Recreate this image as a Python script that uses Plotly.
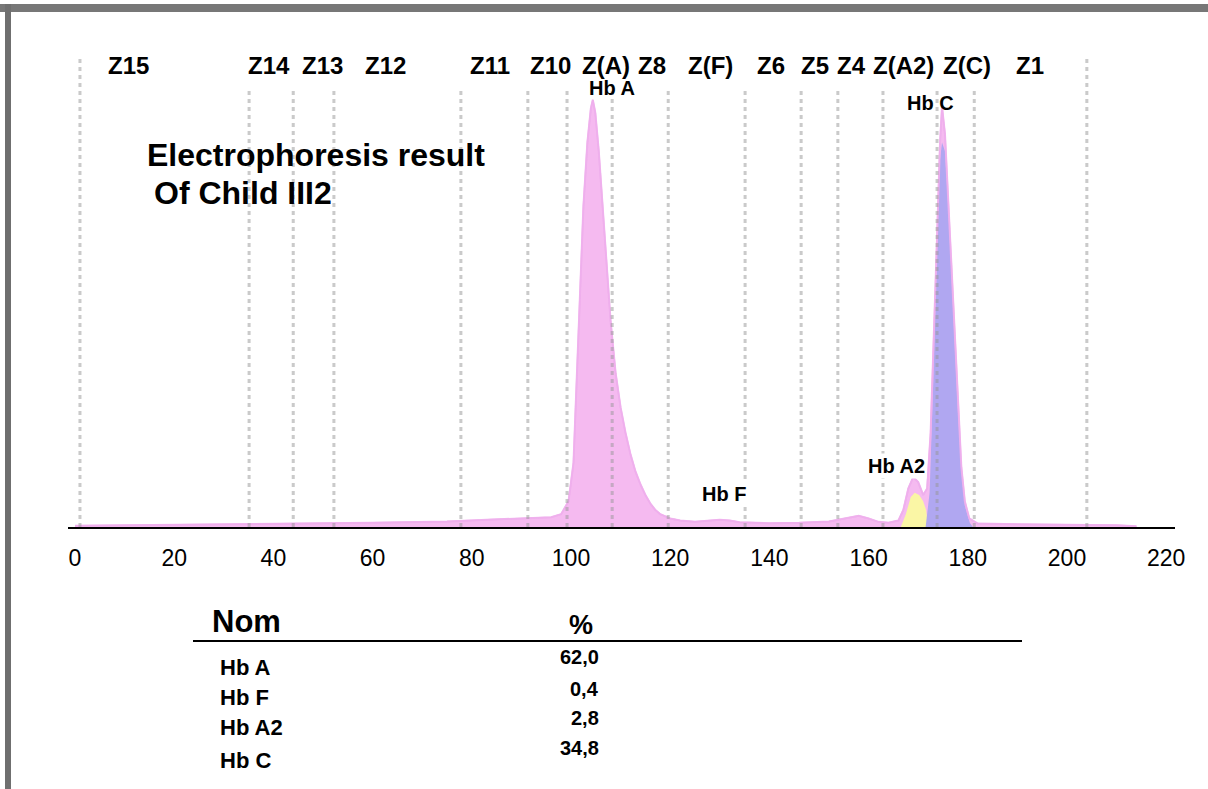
import plotly.graph_objects as go

# ---------------- data ----------------
# zone boundaries (migration position) and zone names
zone_bounds = [1.0, 35.1, 44.0, 52.2, 77.8, 91.3, 99.2, 108.3, 119.6, 135.1,
               146.4, 153.8, 162.9, 173.8, 181.3, 204.0]
zone_names = ["Z15", "Z14", "Z13", "Z12", "Z11", "Z10", "Z(A)", "Z8", "Z(F)",
              "Z6", "Z5", "Z4", "Z(A2)", "Z(C)", "Z1"]
zone_name_pos = [10.8, 39.1, 49.8, 62.7, 83.7, 95.8, 107.1, 116.3, 128.2,
                 140.3, 149.2, 156.5, 167.0, 179.8, 192.5]

# total electrophoregram trace (relative absorbance)
trace_x = [0, 10, 20, 40, 60, 75, 85, 92, 96, 98, 99.5, 100.5, 101.2, 101.8,
           102.5, 103.3, 104.0, 104.4, 104.9, 105.6, 106.4, 107.2, 108.0,
           109.0, 110.0, 111.0, 112.0, 113.0, 114.0, 115.0, 116.0, 117.0,
           118.0, 120.0, 122.0, 125.0, 128.0, 130.0, 132.0, 134.0, 140.0,
           146.0, 152.0, 156.0, 158.0, 160.0, 162.0, 164.0, 166.0, 167.0,
           168.0, 169.0, 170.0, 171.0, 171.8, 172.5, 173.2, 173.8, 174.4,
           174.8, 175.4, 176.0, 176.7, 177.3, 178.0, 178.7, 179.4, 180.3,
           182.0, 190.0, 200.0, 210.0, 214.0]
trace_y = [0.3, 0.4, 0.6, 0.8, 1.0, 1.3, 1.8, 2.0, 2.3, 3.0, 6.0, 15.0, 35.0,
           55.0, 75.0, 90.0, 98.0, 100.0, 97.0, 88.0, 75.0, 60.0, 48.0, 36.0,
           28.0, 22.0, 17.0, 13.0, 10.0, 7.5, 5.5, 4.0, 3.0, 2.0, 1.5, 1.2,
           1.4, 1.7, 1.5, 1.1, 0.9, 1.0, 1.3, 2.2, 2.6, 2.0, 1.2, 1.0, 1.5,
           4.0, 9.0, 11.7, 10.5, 7.5, 9.0, 22.0, 45.0, 68.0, 90.0, 98.4,
           92.0, 78.0, 60.0, 45.0, 28.0, 14.0, 6.0, 2.0, 0.8, 0.6, 0.5, 0.4,
           0.2]

# integrated Hb A2 fraction (yellow)
a2_x = [166.5, 167.5, 168.5, 169.3, 170.2, 171.0, 171.6, 172.0]
a2_y = [0.0, 3.0, 7.0, 8.0, 7.5, 6.0, 4.0, 0.0]

# integrated Hb C fraction (blue/violet)
c_x = [171.5, 172.3, 173.0, 173.7, 174.3, 174.8, 175.4, 176.0, 176.7, 177.3,
       178.0, 178.7, 179.4, 180.4, 181.0]
c_y = [0.0, 8.0, 33.0, 62.0, 85.0, 90.0, 88.0, 76.0, 58.0, 43.0, 27.0,
       13.0, 5.0, 1.0, 0.0]

# peak labels
peak_names = ["Hb A", "Hb F", "Hb A2", "Hb C"]
peak_label_x = [108.3, 130.8, 165.7, 172.4]
peak_label_y = [102.8, 7.7, 14.3, 99.3]

# result table
table_names = ["Hb A", "Hb F", "Hb A2", "Hb C"]
table_percent = ["62,0", "0,4", "2,8", "34,8"]

x_ticks = [0, 20, 40, 60, 80, 100, 120, 140, 160, 180, 200, 220]

# ---------------- layout helpers ----------------
W, H = 1208, 789
PL, PR, PT, PB = 68, 1175, 55, 527   # plot area in pixels
YMAX = 110.5


def px_x(p):
    return (p - PL) / (PR - PL)


def px_y(q):
    return (PB - q) / (PB - PT)


FONT = "Liberation Sans, Arial, sans-serif"

fig = go.Figure()

fig.add_trace(go.Scatter(x=trace_x, y=trace_y, mode="lines", fill="tozeroy",
                         line=dict(color="rgba(240,170,235,0.9)", width=1.5),
                         fillcolor="rgba(244,182,239,0.95)", hoverinfo="skip"))
fig.add_trace(go.Scatter(x=a2_x, y=a2_y, mode="lines", fill="tozeroy",
                         line=dict(width=0), fillcolor="rgba(250,246,165,1)",
                         hoverinfo="skip"))
fig.add_trace(go.Scatter(x=c_x, y=c_y, mode="lines", fill="tozeroy",
                         line=dict(width=0), fillcolor="rgba(172,165,240,0.95)",
                         hoverinfo="skip"))
fig.add_trace(go.Scatter(x=trace_x, y=trace_y, mode="lines",
                         line=dict(color="rgba(238,175,236,0.9)", width=2),
                         hoverinfo="skip"))

shapes = []
for i, b in enumerate(zone_bounds):
    outer = i == 0 or i == len(zone_bounds) - 1
    shapes.append(dict(type="line", xref="x", yref="y", x0=b, x1=b, y0=0,
                       y1=YMAX if outer else 103,
                       line=dict(color="rgba(150,150,150,0.5)", width=3,
                                 dash="4px,4px"), layer="above"))

# outer frame of the report
shapes.append(dict(type="rect", xref="paper", yref="paper",
                   x0=px_x(0), x1=px_x(W), y0=px_y(12), y1=px_y(4),
                   fillcolor="#777777", line=dict(width=0)))
shapes.append(dict(type="rect", xref="paper", yref="paper",
                   x0=px_x(5), x1=px_x(11), y0=px_y(H), y1=px_y(4),
                   fillcolor="#6f6f6f", line=dict(width=0)))
# table header rule
shapes.append(dict(type="line", xref="paper", yref="paper",
                   x0=px_x(193), x1=px_x(1022), y0=px_y(641), y1=px_y(641),
                   line=dict(color="black", width=2)))

annotations = []
for name, xp in zip(zone_names, zone_name_pos):
    annotations.append(dict(x=xp, y=px_y(65), xref="x", yref="paper",
                            text="<b>%s</b>" % name, showarrow=False,
                            xanchor="center", yanchor="middle",
                            font=dict(family=FONT, size=24, color="black")))

for name, xp, yp in zip(peak_names, peak_label_x, peak_label_y):
    annotations.append(dict(x=xp, y=yp, xref="x", yref="y",
                            text="<b>%s</b>" % name, showarrow=False,
                            xanchor="center", yanchor="middle",
                            bgcolor="white" if yp < 50 else None,
                            font=dict(family=FONT, size=20, color="black")))

annotations.append(dict(x=px_x(145), y=px_y(155), xref="paper", yref="paper",
                        text="<b>Electrophoresis result</b>", showarrow=False,
                        xanchor="left", yanchor="middle",
                        font=dict(family=FONT, size=32, color="black")))
annotations.append(dict(x=px_x(152), y=px_y(193), xref="paper", yref="paper",
                        text="<b>Of Child III2</b>", showarrow=False,
                        xanchor="left", yanchor="middle",
                        font=dict(family=FONT, size=32, color="black")))

# table
annotations.append(dict(x=px_x(210), y=px_y(621), xref="paper", yref="paper",
                        text="<b>Nom</b>", showarrow=False, xanchor="left",
                        yanchor="middle",
                        font=dict(family=FONT, size=31, color="black")))
annotations.append(dict(x=px_x(581), y=px_y(625), xref="paper", yref="paper",
                        text="<b>%</b>", showarrow=False, xanchor="center",
                        yanchor="middle",
                        font=dict(family=FONT, size=27, color="black")))
row_name_y = [667, 697, 727, 760]
row_val_y = [657, 689, 718, 748]
for name, val, yn, yv in zip(table_names, table_percent, row_name_y, row_val_y):
    annotations.append(dict(x=px_x(218), y=px_y(yn), xref="paper",
                            yref="paper", text="<b>%s</b>" % name,
                            showarrow=False, xanchor="left", yanchor="middle",
                            font=dict(family=FONT, size=22, color="black")))
    annotations.append(dict(x=px_x(601), y=px_y(yv), xref="paper",
                            yref="paper", text="<b>%s</b>" % val,
                            showarrow=False, xanchor="right", yanchor="middle",
                            font=dict(family=FONT, size=20, color="black")))

fig.update_layout(
    width=W, height=H,
    margin=dict(l=PL, r=W - PR, t=PT, b=H - PB, pad=0),
    paper_bgcolor="white", plot_bgcolor="white",
    showlegend=False,
    shapes=shapes, annotations=annotations,
    xaxis=dict(range=[(PL - 75) / 4.96, (PR - 75) / 4.96],
               tickvals=x_ticks, ticktext=[str(v) for v in x_ticks],
               showgrid=False, zeroline=False, showline=True,
               linecolor="black", linewidth=2, ticks="outside", ticklen=9,
               tickcolor="rgba(0,0,0,0)",
               tickfont=dict(family=FONT, size=23, color="black")),
    yaxis=dict(range=[0, YMAX], visible=False, fixedrange=True),
)

fig.write_html("out.html")
